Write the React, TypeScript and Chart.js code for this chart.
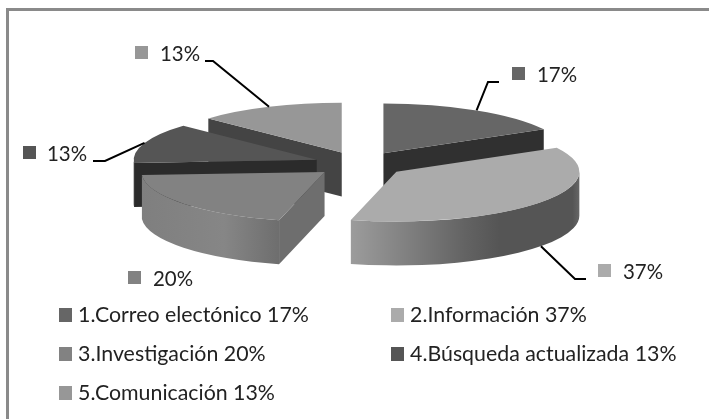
import React, { useEffect, useRef } from "react";
import { Chart, registerables } from "chart.js";

Chart.register(...registerables);

const categories = ["1.Correo electónico", "2.Información", "3.Investigación", "4.Búsqueda actualizada", "5.Comunicación"];
const shares = [17, 37, 20, 13, 13];
const valueLabels = ["17%", "37%", "20%", "13%", "13%"];

const topColors = ["#666666", "#ababab", "#828282", "#555555", "#979797"];
const wallColors = ["#303030", "#6f6f6f", "#6e6e6e", "#2b2b2b", "#444444"];
const outerStops: [number, string][][] = [
  [[0, "#555555"], [1, "#555555"]],
  [[0, "#9c9c9c"], [0.5, "#636363"], [0.65, "#555555"], [0.97, "#555555"], [1, "#666666"]],
  [[0, "#7f7f7f"], [0.6, "#868686"], [1, "#6e6e6e"]],
  [[0, "#2b2b2b"], [1, "#2b2b2b"]],
  [[0, "#444444"], [1, "#444444"]],
];

const FONT = "Lato";
const RADIUS = 183;
const EXPLODE = 46;
const SQUASH = 0.272;
const CENTER_Y = 164;
const DEPTH = 44;
const LEGEND_CONDENSE = 0.97;
const VALUE_CONDENSE = 0.93;

// Callout layout: elbow/end of each leader line, swatch and text start.
const callouts = [
  { elbow: [488, 82], end: [499, 82], swatch: [512, 67], text: [537, 75], wall: false },
  { elbow: [575, 279], end: [586, 279], swatch: [598, 264], text: [623, 272], wall: true },
  { elbow: null, end: null, swatch: [128, 271], text: [153, 279], wall: false },
  { elbow: [105, 161], end: [93, 161], swatch: [23, 146], text: [47, 154], wall: false },
  { elbow: [213, 61], end: [205, 61], swatch: [135, 46], text: [160, 54], wall: false },
];
const legendCols = [59, 391];
const legendRows = [315, 354, 393];
const legendSlots = [[0, 0], [1, 0], [0, 1], [1, 1], [0, 2]];

const condensed = (ctx: any, text: string, x: number, y: number, factor: number) => {
  ctx.fillText(text, x, y, ctx.measureText(text).width * factor);
};

const pie3d = {
  id: "pie3d",
  // Explode every slice along its own mid-angle.
  afterDatasetsUpdate(chart: any) {
    chart.getDatasetMeta(0).data.forEach((a: any) => {
      const mid = (a.startAngle + a.endAngle) / 2;
      a.x += Math.cos(mid) * EXPLODE;
      a.y += Math.sin(mid) * EXPLODE;
    });
  },
  beforeDatasetsDraw(chart: any) {
    const { ctx, chartArea } = chart;
    const arcs = chart.getDatasetMeta(0).data;
    const baseY = (chartArea.top + chartArea.bottom) / 2;
    const geo = arcs.map((a: any, i: number) => ({
      i,
      mid: (a.startAngle + a.endAngle) / 2,
      start: a.startAngle,
      end: a.endAngle,
      r: a.outerRadius,
      x: a.x,
      y: CENTER_Y + SQUASH * (a.y - baseY),
    }));
    ctx.save();
    [...geo]
      .sort((p: any, q: any) => Math.sin(p.mid) - Math.sin(q.mid))
      .forEach((g: any) => {
        const ry = g.r * SQUASH;
        const radial = (t: number) => {
          ctx.fillStyle = wallColors[g.i];
          ctx.beginPath();
          ctx.moveTo(g.x, g.y);
          ctx.lineTo(g.x + g.r * Math.cos(t), g.y + ry * Math.sin(t));
          ctx.lineTo(g.x + g.r * Math.cos(t), g.y + ry * Math.sin(t) + DEPTH);
          ctx.lineTo(g.x, g.y + DEPTH);
          ctx.closePath();
          ctx.fill();
        };
        // A radial wall shows only when it faces the viewer.
        if (Math.cos(g.start) < 0) radial(g.start);
        if (Math.cos(g.end) > 0) radial(g.end);
        const a0 = Math.max(g.start, 0);
        const a1 = Math.min(g.end, Math.PI);
        if (a1 > a0) {
          const x0 = g.x + g.r * Math.cos(a1);
          const x1 = g.x + g.r * Math.cos(a0);
          const grad = ctx.createLinearGradient(x0, 0, x1, 0);
          outerStops[g.i].forEach(([s, c]) => grad.addColorStop(s, c));
          ctx.fillStyle = grad;
          ctx.beginPath();
          ctx.ellipse(g.x, g.y, g.r, ry, 0, a0, a1, false);
          ctx.ellipse(g.x, g.y + DEPTH, g.r, ry, 0, a1, a0, true);
          ctx.closePath();
          ctx.fill();
        }
      });
    ctx.translate(0, CENTER_Y);
    ctx.scale(1, SQUASH);
    ctx.translate(0, -baseY);
  },
  afterDatasetsDraw(chart: any) {
    const { ctx, width, height, chartArea } = chart;
    ctx.restore();
    const arcs = chart.getDatasetMeta(0).data;
    const baseY = (chartArea.top + chartArea.bottom) / 2;

    ctx.save();
    // The frame shows on its top and left sides only.
    ctx.fillStyle = "#8a8a8a";
    ctx.fillRect(6, 8, width - 6, 3);
    ctx.fillRect(6, 8, 3, height - 8);

    ctx.textBaseline = "middle";
    ctx.textAlign = "left";
    arcs.forEach((a: any, i: number) => {
      const c = callouts[i];
      const mid = (a.startAngle + a.endAngle) / 2;
      if (c.elbow && c.end) {
        const sx = a.x + Math.cos(mid) * a.outerRadius;
        const sy = CENTER_Y + SQUASH * (a.y - baseY + Math.sin(mid) * a.outerRadius) + (c.wall ? DEPTH : 0);
        ctx.strokeStyle = "#000000";
        ctx.lineWidth = 2;
        ctx.beginPath();
        ctx.moveTo(sx, sy);
        ctx.lineTo(c.elbow[0], c.elbow[1]);
        ctx.lineTo(c.end[0], c.end[1]);
        ctx.stroke();
      }
      ctx.fillStyle = topColors[i];
      ctx.fillRect(c.swatch[0], c.swatch[1], 13, 13);
      ctx.fillStyle = "#222222";
      ctx.font = `22px ${FONT}`;
      condensed(ctx, valueLabels[i], c.text[0], c.text[1], VALUE_CONDENSE);

      const [col, row] = legendSlots[i];
      const lx = legendCols[col];
      const ly = legendRows[row];
      ctx.fillStyle = topColors[i];
      ctx.fillRect(lx, ly - 7, 13, 14);
      ctx.fillStyle = "#222222";
      ctx.font = `22px ${FONT}`;
      condensed(ctx, `${categories[i]} ${shares[i]}%`, lx + 19, ly, LEGEND_CONDENSE);
    });
    ctx.restore();
  },
};

export default function App() {
  const ref = useRef<HTMLCanvasElement>(null);
  useEffect(() => {
    document.body.style.margin = "0";
    const chart = new Chart(ref.current as HTMLCanvasElement, {
      type: "pie",
      data: {
        labels: categories,
        datasets: [
          {
            data: shares,
            backgroundColor: topColors,
            borderWidth: 0,
            clip: false,
          } as any,
        ],
      },
      options: {
        responsive: false,
        animation: false,
        radius: RADIUS,
        layout: { padding: { left: 11 } },
        plugins: { legend: { display: false }, tooltip: { enabled: false } },
      } as any,
      plugins: [pie3d],
    });
    return () => chart.destroy();
  }, []);
  return <canvas ref={ref} width={709} height={419} style={{ display: "block", background: "#ffffff" }} />;
}
